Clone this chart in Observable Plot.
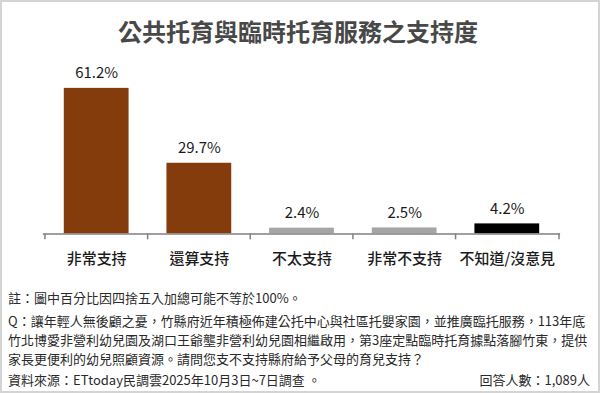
<!DOCTYPE html>
<html>
<head>
<meta charset="utf-8">
<script src="https://cdn.jsdelivr.net/npm/d3@7"></script>
<script src="https://cdn.jsdelivr.net/npm/@observablehq/plot@0.6"></script>
<style>
  html, body { margin: 0; padding: 0; background: #fff; }
  #wrap { position: relative; width: 600px; height: 393px; box-sizing: border-box; border: 2px solid #d4d4d4; overflow: hidden; font-family: "Noto Sans CJK TC", "Noto Sans", sans-serif; }
  #title { position: absolute; left: 0; top: 13px; width: 592px; text-align: center; font-size: 24px; font-weight: bold; color: #484848; line-height: 32px; }
  #chart { position: absolute; left: -2px; top: 48px; }
  .note { position: absolute; left: 6px; font-size: 13px; color: #2a2a2a; line-height: 16px; height: 16px; white-space: nowrap; }
  #n1 { top: 288px; }
  #q1 { top: 311px; }
  #q2 { top: 330px; }
  #q3 { top: 349px; }
  #src { top: 370px; }
  #resp { position: absolute; right: 8px; top: 370px; font-size: 13px; color: #2a2a2a; line-height: 16px; }
</style>
</head>
<body>
<div id="wrap">
  <div id="title">公共托育與臨時托育服務之支持度</div>
  <div id="chart"></div>
  <div class="note" id="n1">註：圖中百分比因四捨五入加總可能不等於100%。</div>
  <div class="note" id="q1">Q：讓年輕人無後顧之憂，竹縣府近年積極佈建公托中心與社區托嬰家園，並推廣臨托服務，113年底</div>
  <div class="note" id="q2">竹北博愛非營利幼兒園及湖口王爺壟非營利幼兒園相繼啟用，第3座定點臨時托育據點落腳竹東，提供</div>
  <div class="note" id="q3">家長更便利的幼兒照顧資源。請問您支不支持縣府給予父母的育兒支持？</div>
  <div class="note" id="src">資料來源：ETtoday民調雲2025年10月3日~7日調查 。</div>
  <div id="resp">回答人數：1,089人</div>
</div>
<script>
const categories = ["非常支持", "還算支持", "不太支持", "非常不支持", "不知道/沒意見"];
const values = [61.2, 29.7, 2.4, 2.5, 4.2];
const labels = ["61.2%", "29.7%", "2.4%", "2.5%", "4.2%"];
const colors = ["#843c0c", "#843c0c", "#a5a5a5", "#a5a5a5", "#000000"];

const data = categories.map((c, i) => ({cat: c, value: values[i], label: labels[i], color: colors[i]}));

const mL = 43, mR = 38;
const step = (600 - mL - mR) / categories.length;

const chart = Plot.plot({
  width: 600,
  height: 232,
  marginLeft: mL,
  marginRight: mR,
  marginTop: 17,
  marginBottom: 48,
  style: {fontFamily: '"Noto Sans CJK TC", "Noto Sans", sans-serif', background: "transparent"},
  x: {domain: categories, paddingInner: 0.37, paddingOuter: 0.185, label: null},
  y: {domain: [0, 70], axis: null},
  marks: [
    Plot.barY(data, {x: "cat", y: "value", fill: d => d.color}),
    Plot.ruleY([0], {stroke: "#808080", strokeWidth: 1.5}),
    Plot.ruleX(data, {x: "cat", y1: 0, y2: -2.5, dx: -step / 2, stroke: "#808080", strokeWidth: 1.5}),
    Plot.ruleX(data.slice(-1), {x: "cat", y1: 0, y2: -2.5, dx: step / 2, stroke: "#808080", strokeWidth: 1.5}),
    Plot.text(data, {x: "cat", y: "value", text: "label", dy: -15, fontSize: 15, fill: "#1a1a1a"}),
    Plot.axisX({tickSize: 0, tickPadding: 20, fontSize: 15, fontWeight: 500, fill: "#1a1a1a", label: null})
  ]
});
document.getElementById("chart").appendChild(chart);
</script>
</body>
</html>
